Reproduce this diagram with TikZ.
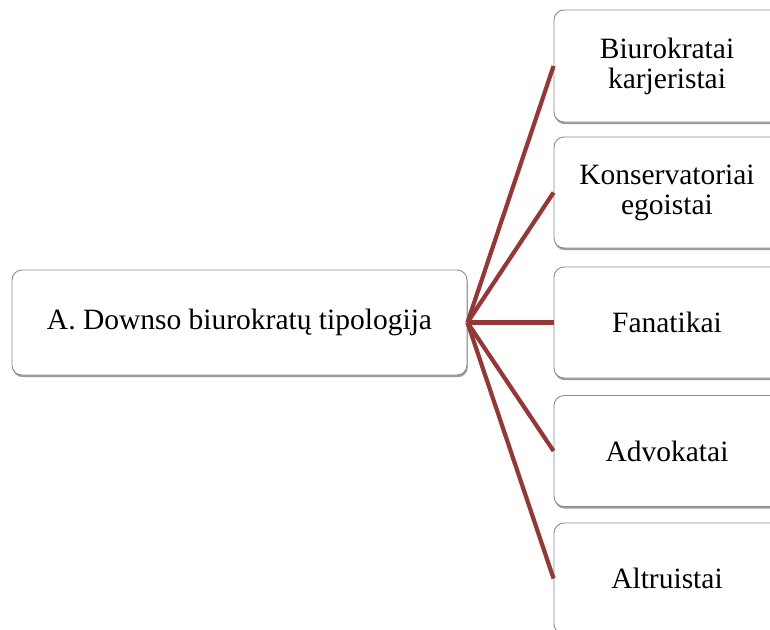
\documentclass[tikz,border=0pt]{standalone}
\usepackage{fontspec}
\setmainfont{Liberation Serif}
\usetikzlibrary{shadows}
\definecolor{linkred}{HTML}{953735}
\definecolor{boxline}{HTML}{8C8C8C}
\tikzset{
  card/.style={draw=boxline, line width=0.9pt, rounded corners=10pt, fill=white,
    align=center, font=\fontsize{29.5}{30}\selectfont, inner sep=0pt,
    drop shadow={shadow xshift=0.8pt, shadow yshift=-2.2pt, opacity=0.55, fill=black!70}},
  link/.style={linkred, line width=4.2pt}
}
\begin{document}
\begin{tikzpicture}[x=1pt, y=-1pt]
  \useasboundingbox (0,0) rectangle (770,629);
  \clip (0,0) rectangle (770,629);
  % root box
  \node[card, minimum width=455pt, minimum height=105pt] (root) at (239.5,322.5) {A. Downso biurokratų tipologija};
  % branch boxes
  \node[card, minimum width=226pt, minimum height=112pt] (b1) at (667,66) {Biurokratai\\karjeristai};
  \node[card, minimum width=226pt, minimum height=111pt] (b2) at (667,192.5) {Konservatoriai\\egoistai};
  \node[card, minimum width=226pt, minimum height=111pt] (b3) at (667,322.5) {Fanatikai};
  \node[card, minimum width=226pt, minimum height=111pt] (b4) at (667,451) {Advokatai};
  \node[card, minimum width=226pt, minimum height=111pt] (b5) at (667,578.5) {Altruistai};
  % connectors
  \foreach \b in {b1,b2,b3,b4,b5}
    \draw[link] (root.east) -- (\b.west);
\end{tikzpicture}
\end{document}
